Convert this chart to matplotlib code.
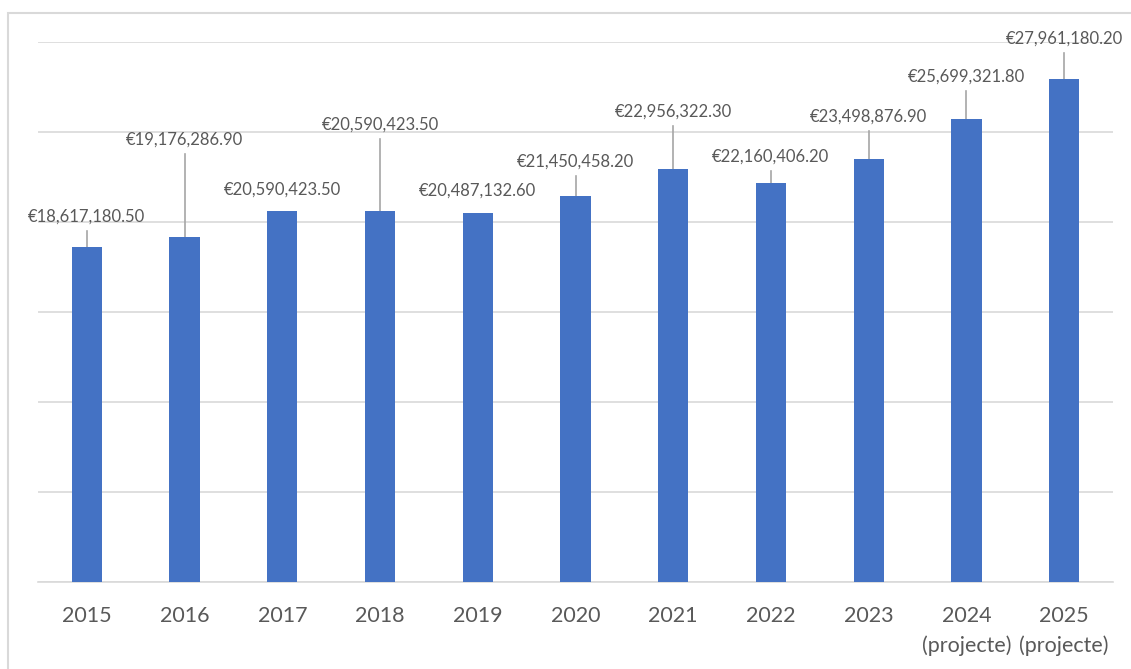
import matplotlib.pyplot as plt
from matplotlib.patches import Rectangle

years = ['2015', '2016', '2017', '2018', '2019', '2020', '2021', '2022', '2023',
         '2024\n(projecte)', '2025\n(projecte)']
revenue = [18617180.50, 19176286.90, 20590423.50, 20590423.50, 20487132.60,
           21450458.20, 22956322.30, 22160406.20, 23498876.90, 25699321.80,
           27961180.20]

# where each data label sits (centre of text, in euros), as in the original layout
label_y = [20.28e6, 24.56e6, 21.78e6, 25.39e6, 21.72e6, 23.33e6, 26.11e6,
           23.61e6, 25.83e6, 28.06e6, 30.17e6]

bar_color = '#4472C4'
text_color = '#595959'
grid_color = '#D9D9D9'

plt.rcParams['font.family'] = ['Lato', 'DejaVu Sans']

fig = plt.figure(figsize=(11.31, 6.69), dpi=100)
ax = fig.add_axes([38 / 1131, 87 / 669, 1075 / 1131, 540 / 669])

x = list(range(len(years)))
ax.bar(x, revenue, width=0.31, color=bar_color, zorder=3)

ax.set_xlim(-0.5, len(years) - 0.5)
ax.set_ylim(0, 30e6)
ax.set_yticks([i * 5e6 for i in range(7)])
ax.yaxis.grid(True, color=grid_color, linewidth=1.2, zorder=0)
ax.set_yticklabels([])
ax.tick_params(axis='y', length=0)

ax.set_xticks(x)
ax.set_xticklabels(years, fontsize=15.5, color=text_color, linespacing=1.6)
ax.tick_params(axis='x', length=0, pad=17)

for side in ['top', 'right', 'left']:
    ax.spines[side].set_visible(False)
ax.spines['bottom'].set_color(grid_color)
ax.spines['bottom'].set_linewidth(1.2)

# data labels with leader lines
px = 30e6 / 540  # euros per pixel
for xi, val, ly in zip(x, revenue, label_y):
    ax.text(xi, ly, '€{:,.2f}'.format(val), ha='center', va='center',
            fontsize=12, color=text_color, clip_on=False, zorder=4)
    line_top = ly - 14 * px
    if line_top - val > 10 * px:
        ax.plot([xi, xi], [val, line_top], color='#A6A6A6', linewidth=1.2,
                zorder=2, clip_on=False)

# outer chart frame
fig.patches.append(Rectangle((8 / 1131, -0.1), 1.2, (669 - 13) / 669 + 0.1,
                             transform=fig.transFigure, fill=False,
                             edgecolor=grid_color, linewidth=1.5))

fig.savefig('out.png', dpi=100)
